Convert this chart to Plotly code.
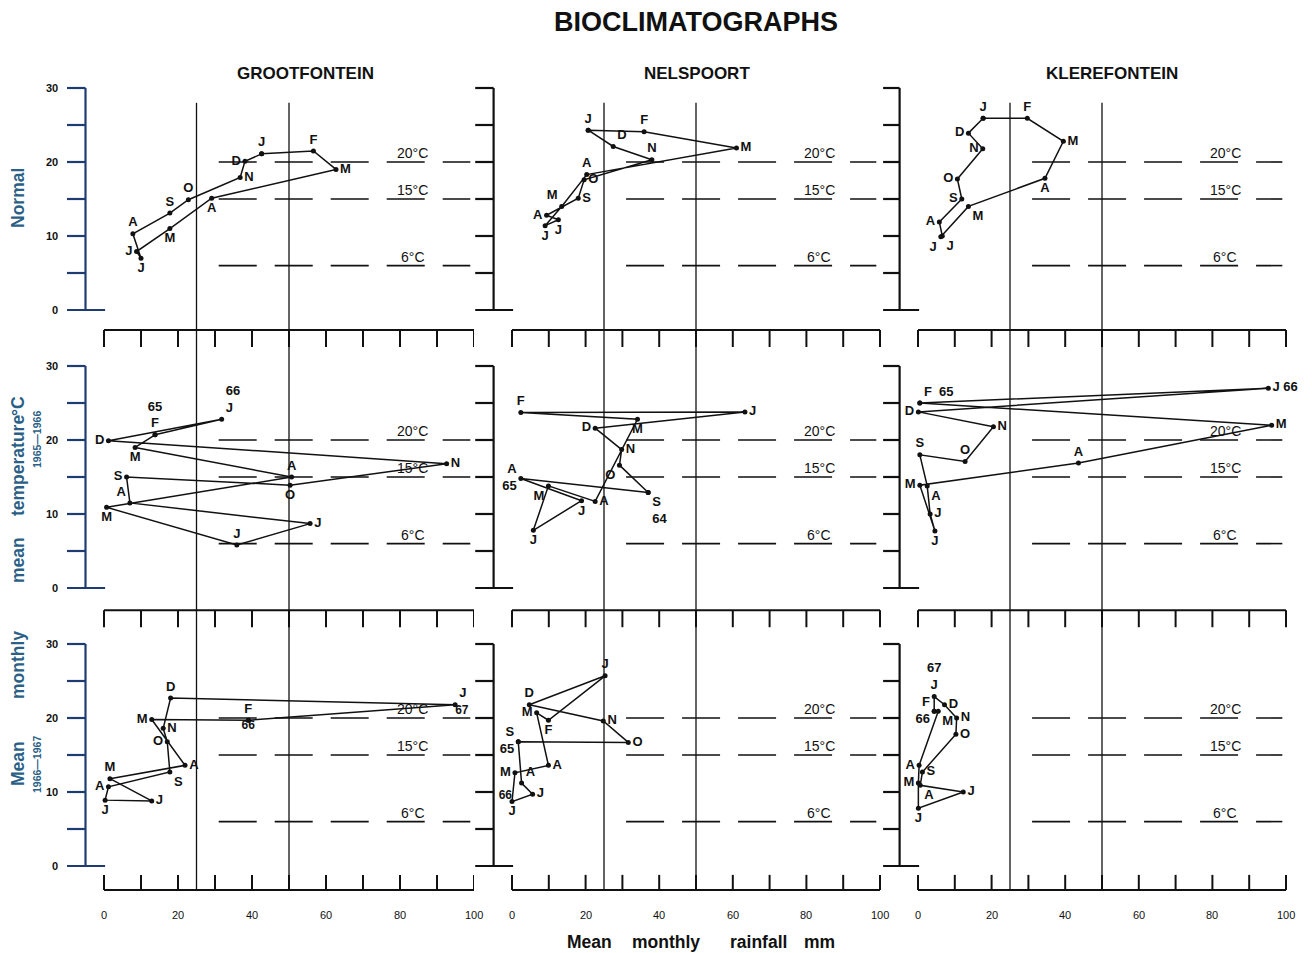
import plotly.graph_objects as go

# ---------------- data ----------------
TITLE = "BIOCLIMATOGRAPHS"
STATIONS = ["GROOTFONTEIN", "NELSPOORT", "KLEREFONTEIN"]
ROW_LABEL = "Normal"
PERIODS = ["1965—1966", "1966—1967"]
Y_TITLE_WORDS = ["Mean", "monthly", "mean", "temperature", "°C"]
X_TITLE_WORDS = ["Mean", "monthly", "rainfall", "mm"]
RAIN_TICKS = [0, 20, 40, 60, 80, 100]
TEMP_TICKS = [0, 10, 20, 30]
TEMP_MINOR = [0, 5, 10, 15, 20, 25, 30]
RAIN_MINOR = [0, 10, 20, 30, 40, 50, 60, 70, 80, 90, 100]
ISOTHERMS = [20, 15, 6]
ISO_LABELS = ["20°C", "15°C", "6°C"]
RAIN_REFS = [25, 50]

# Grootfontein, normal (Jan..Dec)
g0_lab = ["J", "F", "M", "A", "M", "J", "J", "A", "S", "O", "N", "D"]
g0_rain = [42.6, 56.6, 62.7, 29.1, 17.8, 8.8, 10.0, 7.8, 17.8, 22.8, 36.8, 38.1]
g0_temp = [21.1, 21.5, 19.0, 15.1, 11.0, 7.9, 7.0, 10.3, 13.1, 14.9, 17.9, 20.1]

# Nelspoort, normal (Jan..Dec)
n0_lab = ["J", "F", "M", "A", "M", "J", "J", "A", "S", "O", "N", "D"]
n0_rain = [20.7, 35.9, 61.0, 20.3, 13.5, 9.0, 12.6, 9.4, 18.0, 19.6, 38.0, 27.5]
n0_temp = [24.3, 24.1, 21.9, 18.3, 14.0, 11.4, 12.2, 12.8, 15.1, 17.6, 20.3, 22.1]

# Klerefontein, normal (Jan..Dec)
k0_lab = ["J", "F", "M", "A", "M", "J", "J", "A", "S", "O", "N", "D"]
k0_rain = [17.7, 29.7, 39.5, 34.5, 13.7, 6.2, 6.6, 5.8, 11.9, 10.7, 17.6, 13.7]
k0_temp = [25.9, 25.9, 22.8, 17.8, 14.0, 9.9, 10.0, 11.9, 15.0, 17.7, 21.8, 23.9]

# Grootfontein 1965-1966 (Feb 65 .. Jan 66)
g1_lab = ["65<br>F", "M", "A", "M", "J", "J", "A", "S", "O", "N", "D", "66<br>J"]
g1_rain = [13.8, 8.4, 50.7, 0.7, 35.9, 55.7, 7.0, 6.1, 50.3, 92.6, 1.2, 31.8]
g1_temp = [20.7, 19.0, 15.0, 10.9, 5.8, 8.7, 11.5, 15.0, 13.9, 16.8, 19.9, 22.8]
g1_year = []

# Nelspoort 1964-1965 (Sep 64 .. Aug 65)
n1_lab = ["S<br>64", "O", "N", "D", "J", "F", "M", "A", "M", "J", "J", "A<br>65"]
n1_rain = [37.0, 29.2, 29.8, 22.6, 63.3, 2.4, 34.1, 22.6, 9.9, 5.8, 18.9, 2.4]
n1_temp = [12.9, 16.6, 18.7, 21.6, 23.8, 23.7, 22.8, 11.7, 13.8, 7.8, 11.8, 14.8]
n1_year = []

# Klerefontein 1965-1966 (Feb 65 .. Jan 66)
k1_lab = ["F  65", "M", "A", "M", "J", "J", "A", "S", "O", "N", "D", "J 66"]
k1_rain = [0.5, 96.1, 43.6, 0.5, 4.6, 3.3, 2.5, 0.5, 12.8, 20.5, 0.1, 95.2]
k1_temp = [25.0, 22.0, 16.9, 13.9, 7.7, 10.0, 13.8, 18.0, 17.1, 21.8, 23.8, 27.0]
k1_year = []

# Grootfontein 1966-1967 (Feb 66 .. Jan 67)
g2_lab = ["F", "M", "A", "M", "J", "J", "A", "S", "O", "N", "D", "J"]
g2_rain = [39.0, 12.9, 21.9, 1.6, 12.9, 0.3, 1.2, 17.8, 17.1, 16.0, 18.0, 94.9]
g2_temp = [19.7, 19.8, 13.6, 11.8, 8.8, 8.9, 10.7, 12.7, 16.8, 18.6, 22.7, 21.8]
g2_year = [(0, "66"), (11, "67")]

# Nelspoort 1965-1966 (Sep 65 .. Aug 66)
n2_lab = ["S<br>65", "O", "N", "D", "J", "F", "M", "A", "M", "J", "J", "A"]
n2_rain = [1.7, 31.6, 24.8, 4.7, 25.3, 9.9, 6.7, 9.9, 0.8, 0.0, 5.6, 2.6]
n2_temp = [16.8, 16.7, 19.6, 21.8, 25.7, 19.7, 20.7, 13.6, 12.6, 8.7, 9.7, 11.2]
n2_year = [(9, "66")]

# Klerefontein 1966-1967 (Feb 66 .. Jan 67)
k2_lab = ["F<br>66", "M", "A", "M", "J", "J", "A", "S", "O", "N", "D", "67<br>J"]
k2_rain = [4.4, 5.5, 0.3, 0.1, 0.1, 12.3, 0.6, 1.2, 10.3, 10.5, 7.2, 4.4]
k2_temp = [20.9, 20.9, 13.6, 11.2, 7.8, 10.0, 10.9, 12.7, 17.8, 20.0, 21.8, 22.9]
k2_year = []

# ---------------- label placement (style) ----------------
g0_pos = ["top center", "top center", "middle right", "bottom center", "bottom center", "middle left",
          "bottom center", "top center", "top center", "top center", "middle right", "middle left"]
n0_pos = ["top center", "top center", "middle right", "top center", "top left", "bottom center",
          "bottom center", "middle left", "middle right", "middle right", "top center", "top right"]
k0_pos = ["top center", "top center", "middle right", "bottom center", "bottom right", "bottom left",
          "bottom right", "middle left", "middle left", "middle left", "middle left", "middle left"]
g1_pos = ["top center", "bottom center", "top center", "bottom center", "top center", "middle right",
          "top left", "middle left", "bottom center", "middle right", "middle left", "top right"]
g1_ypos = []
n1_pos = ["bottom right", "bottom left", "middle right", "middle left", "middle right", "top center",
          "bottom center", "middle right", "bottom left", "bottom center", "bottom center", "middle left"]
n1_ypos = []
k1_pos = ["top right", "middle right", "top center", "middle left", "bottom center", "middle right",
          "bottom right", "top center", "top center", "middle right", "middle left", "middle right"]
k1_ypos = []
g2_pos = ["top center", "middle left", "middle right", "top center", "middle right", "bottom center",
          "middle left", "bottom right", "middle left", "middle right", "top center", "top right"]
g2_ypos = ["bottom center", "bottom right"]
n2_pos = ["middle left", "middle right", "middle right", "top center", "top center", "bottom center",
          "middle left", "middle right", "middle left", "bottom center", "middle right", "top right"]
n2_ypos = ["top left"]
k2_pos = ["middle left", "bottom right", "middle left", "middle left", "bottom center", "middle right",
          "bottom right", "middle right", "middle right", "middle right", "middle right", "top center"]
k2_ypos = []

panels = [
    (0, 0, g0_rain, g0_temp, g0_lab, g0_pos, [], []),
    (0, 1, n0_rain, n0_temp, n0_lab, n0_pos, [], []),
    (0, 2, k0_rain, k0_temp, k0_lab, k0_pos, [], []),
    (1, 0, g1_rain, g1_temp, g1_lab, g1_pos, g1_year, g1_ypos),
    (1, 1, n1_rain, n1_temp, n1_lab, n1_pos, n1_year, n1_ypos),
    (1, 2, k1_rain, k1_temp, k1_lab, k1_pos, k1_year, k1_ypos),
    (2, 0, g2_rain, g2_temp, g2_lab, g2_pos, g2_year, g2_ypos),
    (2, 1, n2_rain, n2_temp, n2_lab, n2_pos, n2_year, n2_ypos),
    (2, 2, k2_rain, k2_temp, k2_lab, k2_pos, k2_year, k2_ypos),
]

# ---------------- geometry ----------------
OFF = 8                      # page body margin
W, H = 1312 - OFF, 953 - OFF
COL_PX = [(50, 474, 104, 3.70), (474, 882, 512, 3.68), (882, 1305, 918, 3.68)]
ROW_PX = [(60, 355, 310), (355, 635, 588), (635, 900, 866)]
PPU_Y = 7.4
COMB = [(-2.7, -5.0), (-3.0, -5.3), (-3.24, -1.2)]

FONT = "Liberation Sans"
INK = "#111111"
BLUE_AXIS = "#1f3c72"
BLUE_TEXT = "#2b5f86"

fig = go.Figure()
layout = dict(width=W, height=H, margin=dict(l=0, r=0, t=0, b=0), autosize=False,
              paper_bgcolor="white", plot_bgcolor="rgba(0,0,0,0)", showlegend=False)
shapes = []
annotations = []


def ax_id(r, c):
    n = r * 3 + c + 1
    return ("x", "y") if n == 1 else (f"x{n}", f"y{n}")


for r in range(3):
    for c in range(3):
        n = r * 3 + c + 1
        px0, px1, zx, ppx = COL_PX[c]
        pyt, pyb, zy = ROW_PX[r]
        xr = [(px0 - zx) / ppx, (px1 - zx) / ppx]
        yr = [(zy - pyb) / PPU_Y, (zy - pyt) / PPU_Y]
        xa, ya = ax_id(r, c)
        sfx = "" if n == 1 else str(n)
        layout["xaxis" + sfx] = dict(domain=[(px0 - OFF) / W, (px1 - OFF) / W], range=xr,
                                     visible=False, fixedrange=True, anchor=ya)
        layout["yaxis" + sfx] = dict(domain=[1 - (pyb - OFF) / H, 1 - (pyt - OFF) / H], range=yr,
                                     visible=False, fixedrange=True, anchor=xa)

        def ln(x0, y0, x1, y1, color=INK, width=1.4, dash=None):
            d = dict(type="line", xref=xa, yref=ya, x0=x0, y0=y0, x1=x1, y1=y1,
                     line=dict(color=color, width=width), layer="below")
            if dash:
                d["line"]["dash"] = dash
            shapes.append(d)

        axc = BLUE_AXIS if c == 0 else INK
        tick_left = max(-10, xr[0] + 0.3)
        # left temperature axis
        ln(-5, 0, -5, 30, axc, 2.2)
        for t in TEMP_MINOR:
            ln(tick_left, t, 0.3 if t == 0 else -5, t, axc, 2.2)
        # rainfall comb
        cy, ct = COMB[r]
        ln(0, cy, 100, cy, INK, 2.0)
        for t in RAIN_MINOR:
            ln(t, cy, t, ct, INK, 2.0)
        # reference rainfall lines
        top = 28 if r == 0 else yr[1]
        bot = cy if r == 2 else yr[0]
        for v in RAIN_REFS:
            ln(v, bot, v, top, INK, 1.3)
        # isotherms
        for v, lab in zip(ISOTHERMS, ISO_LABELS):
            ln(31, v, 99, v, INK, 1.6, "38px,18px")
            annotations.append(dict(xref=xa, yref=ya, x=83.5, y=v, text=lab, showarrow=False,
                                    xanchor="center", yanchor="bottom", yshift=-1,
                                    font=dict(family=FONT, size=14, color=INK)))
        # temperature tick labels (first column only)
        if c == 0:
            for t in TEMP_TICKS:
                annotations.append(dict(xref=xa, yref=ya, x=-11.8, y=t, text=str(t), showarrow=False,
                                        xanchor="right", yanchor="middle",
                                        font=dict(family=FONT, size=11, color=INK, weight="bold")))
        # rainfall tick labels (bottom row only)
        if r == 2:
            for t in RAIN_TICKS:
                annotations.append(dict(xref=xa, yref=ya, x=t, y=cy, yshift=-25, text=str(t),
                                        showarrow=False, xanchor="center", yanchor="middle",
                                        font=dict(family=FONT, size=11, color=INK)))

# ---------------- traces ----------------
for r, c, xs, ys, labs, pos, years, ypos in panels:
    xa, ya = ax_id(r, c)
    fig.add_trace(go.Scatter(
        x=xs + [xs[0]], y=ys + [ys[0]], xaxis=xa, yaxis=ya,
        mode="lines+markers+text", text=labs + [""], textposition=pos + ["middle center"],
        line=dict(color=INK, width=1.5), marker=dict(color=INK, size=5),
        textfont=dict(family=FONT, size=13, color=INK, weight="bold"),
        cliponaxis=False, hoverinfo="skip"))
    if years:
        fig.add_trace(go.Scatter(
            x=[xs[i] for i, _ in years], y=[ys[i] for i, _ in years],
            xaxis=xa, yaxis=ya, mode="text", text=[t for _, t in years], textposition=ypos,
            textfont=dict(family=FONT, size=12, color=INK, weight="bold"),
            cliponaxis=False, hoverinfo="skip"))


# ---------------- page texts ----------------
def paper_text(px, py, text, size, color=INK, weight="normal", angle=0):
    annotations.append(dict(xref="paper", yref="paper", x=(px - OFF) / W, y=1 - (py - OFF) / H,
                            text=text, showarrow=False, xanchor="center", yanchor="middle",
                            textangle=angle,
                            font=dict(family=FONT, size=size, color=color, weight=weight)))


paper_text(696, 22, TITLE, 27, weight="bold")
for cx, name in zip([305, 697, 1112], STATIONS):
    paper_text(cx, 74, name, 17, weight="bold")
paper_text(18, 198, ROW_LABEL, 17.5, BLUE_TEXT, "bold", -90)
for cy, w in zip([764, 665, 560, 466, 406], Y_TITLE_WORDS):
    paper_text(18, cy, w, 17.5, BLUE_TEXT, "bold", -90)
paper_text(37, 440, PERIODS[0], 10.5, BLUE_TEXT, "bold", -90)
paper_text(37, 765, PERIODS[1], 10.5, BLUE_TEXT, "bold", -90)
for cx, w in zip([589, 666, 758, 819], X_TITLE_WORDS):
    paper_text(cx, 942, w, 17.5, weight="bold")

layout["shapes"] = shapes
layout["annotations"] = annotations
fig.update_layout(**layout)
fig.write_html("out.html")
